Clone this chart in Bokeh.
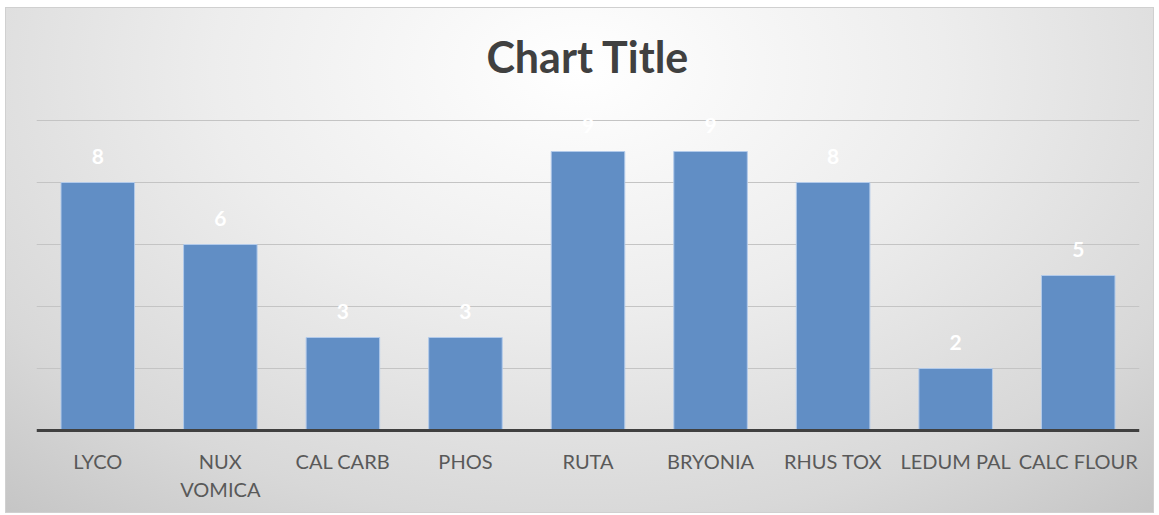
from bokeh.plotting import figure
from bokeh.models import ColumnDataSource, LabelSet, Label, Range1d
from bokeh.core.properties import value
from bokeh.embed import file_html
from bokeh.resources import INLINE

categories = ["LYCO", "NUX VOMICA", "CAL CARB", "PHOS", "RUTA", "BRYONIA", "RHUS TOX", "LEDUM PAL", "CALC FLOUR"]
tick_labels = ["LYCO", "NUX\nVOMICA", "CAL CARB", "PHOS", "RUTA", "BRYONIA", "RHUS TOX", "LEDUM PAL", "CALC FLOUR"]
values = [8, 6, 3, 3, 9, 9, 8, 2, 5]
y_ticks = [2, 4, 6, 8, 10]
title_text = "Chart Title"

FONT = "Lato"

W, H = 1147, 504
ZERO_PX = 422          # pixel row (from figure top) of value 0
PX_PER_UNIT = 31.0
y_top = ZERO_PX / PX_PER_UNIT
y_bottom = -(H - ZERO_PX) / PX_PER_UNIT

src = ColumnDataSource(dict(cat=categories, val=values, lab=[str(v) for v in values],
                            tick=tick_labels))

p = figure(x_range=categories, y_range=Range1d(y_bottom, y_top), width=W, height=H,
           output_backend="svg", toolbar_location=None,
           x_axis_location=None, y_axis_location=None,
           min_border_left=30, min_border_right=14, min_border_top=0, min_border_bottom=0)
p.margin = (8, 0, 0, 6)

p.styles = {"background": "radial-gradient(ellipse 80% 120% at 50% 12%, #ffffff 0%, #ededed 40%, #d8d8d8 75%, #c2c2c2 100%)",
            "outline": "1px solid #d0d0d0"}
p.background_fill_color = None
p.border_fill_color = None
p.outline_line_color = None

p.xgrid.grid_line_color = None
p.ygrid.ticker = y_ticks
p.ygrid.grid_line_color = "#c4c4c4"
p.ygrid.grid_line_width = 1

p.vbar(x="cat", top="val", width=0.6, source=src,
       fill_color="#618EC5", line_color="#B2CAEA", line_width=1)

# category axis line
p.hspan(y=[0], line_color="#404040", line_width=3)

# category labels
p.text(x="cat", y=0, text="tick", source=src, y_offset=18,
       text_align="center", text_baseline="top", text_line_height=1.2,
       text_color="#595959", text_font=value(FONT), text_font_size="20px")

p.add_layout(LabelSet(x="cat", y="val", text="lab", source=src,
                      y_offset=26, text_align="center", text_baseline="middle",
                      text_color="white", text_font=value(FONT), text_font_style="bold",
                      text_font_size="21px"))

p.add_layout(Label(x=4.5, y=12.06, text=title_text, text_align="center", text_baseline="middle",
                   text_color="#404040", text_font=FONT, text_font_style="bold",
                   text_font_size="43px"))

open("out.html", "w").write(file_html(p, INLINE))
